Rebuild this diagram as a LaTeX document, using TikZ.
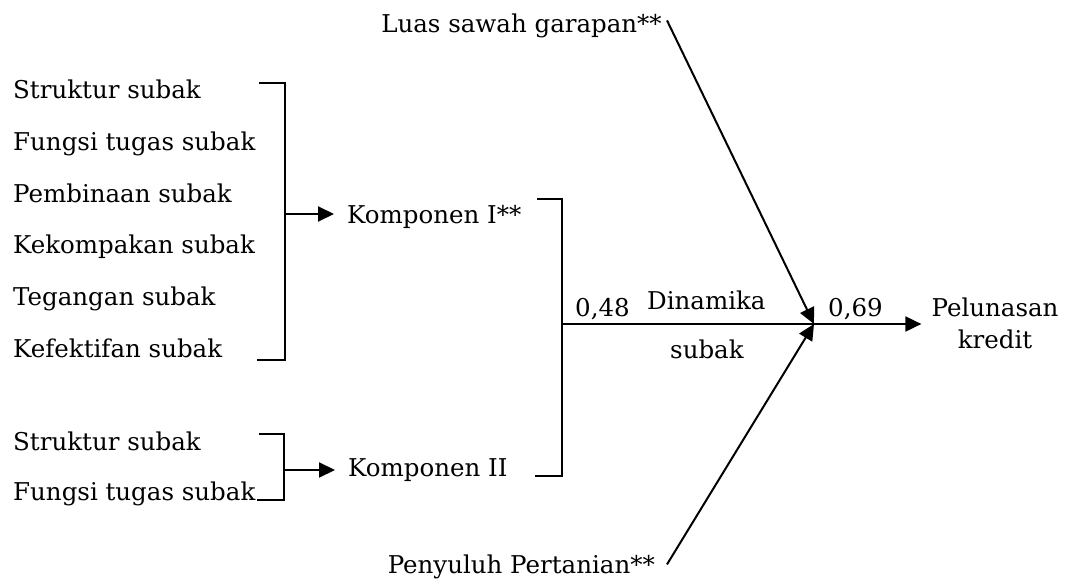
\documentclass[tikz,border=0pt]{standalone}
\usepackage{fontspec}
\setmainfont{DejaVu Serif}
\usetikzlibrary{arrows.meta}
\begin{document}
\begin{tikzpicture}[x=1pt,y=-1pt,
  lbl/.style={anchor=base west,inner sep=0pt,font=\fontsize{24.5}{32}\selectfont},
  ln/.style={line width=2pt},
  arr/.style={ln,-{Triangle[length=16pt,width=15pt]}}]
\useasboundingbox (0,0) rectangle (1065,580);

% first group of indicators
\node[lbl] (a1) at (13,99)    {Struktur subak};
\node[lbl] (a2) at (13,150.6) {Fungsi tugas subak};
\node[lbl] (a3) at (13,202.2) {Pembinaan subak};
\node[lbl] (a4) at (13,253.8) {Kekompakan subak};
\node[lbl] (a5) at (13,305.4) {Tegangan subak};
\node[lbl] (a6) at (13,357)   {Kefektifan subak};
\node[lbl] (k1) at (347,223)  {Komponen I**};

% second group of indicators
\node[lbl] (c1) at (13,450) {Struktur subak};
\node[lbl] (c2) at (13,500) {Fungsi tugas subak};
\node[lbl] (k2) at (348,476) {Komponen II};

% outer variables
\node[lbl,anchor=base east] (luas) at (662,33) {Luas sawah garapan**};
\node[lbl,anchor=base east] (peny) at (655,573) {Penyuluh Pertanian**};
\node[lbl,anchor=base,align=center] (pel) at (995,348) {Pelunasan\\kredit};

% path coefficients and label of the central path
\node[lbl] (p48) at (575,316) {0,48};
\node[lbl] (din) at (647,309) {Dinamika};
\node[lbl] (sub) at (670,358) {subak};
\node[lbl] (p69) at (828,316) {0,69};

% bracket corners
\coordinate (b1t) at (259,83);  \coordinate (b1tr) at (285,83);
\coordinate (b1br) at (285,360); \coordinate (b1b) at (257,360);
\coordinate (b1m) at (285,214);
\coordinate (b2t) at (259,434); \coordinate (b2tr) at (284,434);
\coordinate (b2br) at (284,500); \coordinate (b2b) at (257,500);
\coordinate (b2m) at (284,470);
\coordinate (b3t) at (537,199); \coordinate (b3tr) at (562,199);
\coordinate (b3br) at (562,476); \coordinate (b3b) at (535,476);
\coordinate (b3m) at (562,324);
\coordinate (j) at (814,324);

% brackets
\draw[ln] (b1t) -- (b1tr) -- (b1br) -- (b1b);
\draw[ln] (b2t) -- (b2tr) -- (b2br) -- (b2b);
\draw[ln] (b3t) -- (b3tr) -- (b3br) -- (b3b);

% arrows
\draw[arr,shorten >=13pt] (b1m) -- (b1m -| k1.west);
\draw[arr,shorten >=13pt] (b2m) -- (b2m -| k2.west);
\draw[ln] (b3m) -- (j);
\draw[arr,shorten >=10pt] (j) -- (j -| pel.west);
\draw[arr] ([xshift=5pt,yshift=6pt]luas.east) -- (j);
\draw[arr] ([xshift=12pt,yshift=2pt]peny.east) -- (j);
\end{tikzpicture}
\end{document}
